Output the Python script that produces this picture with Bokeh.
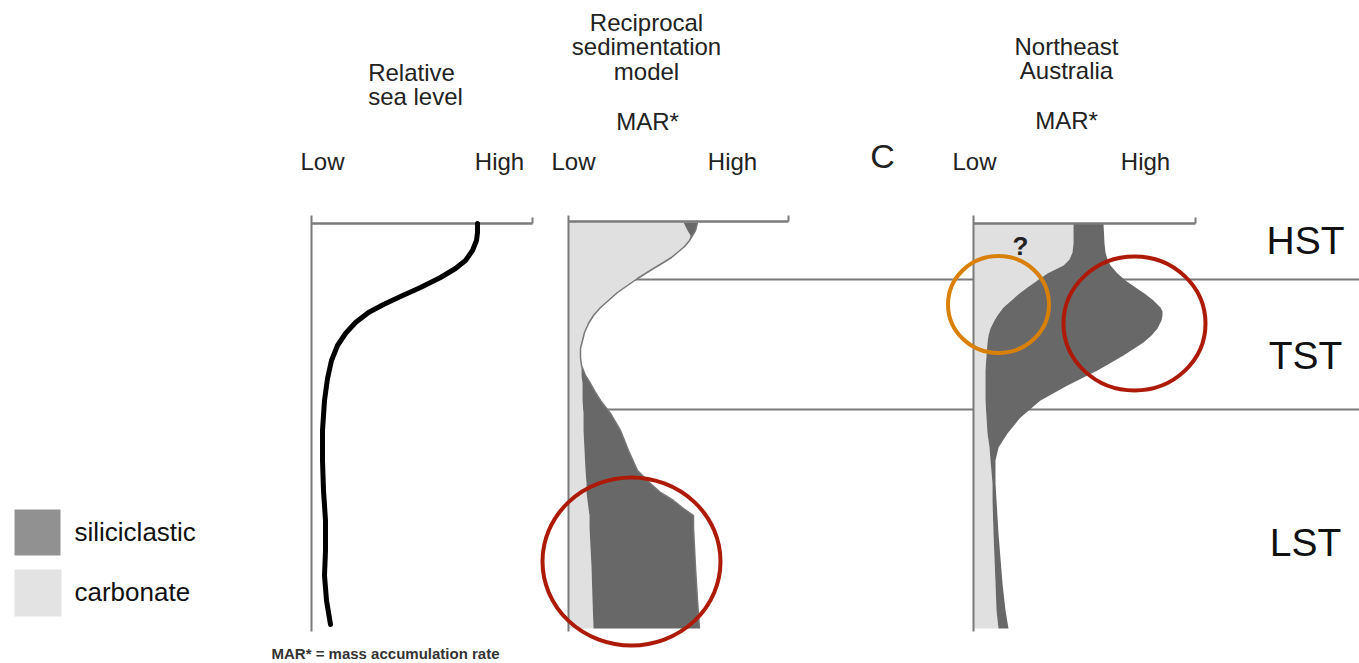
from bokeh.plotting import figure
from bokeh.models import Range1d
from bokeh.embed import file_html
from bokeh.resources import INLINE
from bokeh.core.properties import value

# ---------------- data (diagram units = pixels of the drawing) ----------------
# Relative sea level curve: depth and position between Low and High
sea_depth = [223, 232, 240, 250, 260, 268, 277, 287, 296, 304, 312, 322, 333, 345, 360, 378,
             400, 430, 460, 490, 520, 550, 575, 600, 624]
sea_level = [477, 477, 476, 472, 465, 455, 440, 420, 400, 383, 368, 355, 345, 337, 331, 327,
             324, 322, 322, 323, 325, 325, 324, 326, 330]

# Reciprocal sedimentation model: carbonate boundary and total MAR boundary
rsm_depth = [222, 226, 230, 235, 240, 246, 252, 257, 262, 268, 273, 278, 285, 292, 300, 307, 315, 323, 332, 340,
             348, 357, 365, 375, 383, 392, 400, 413, 430, 450, 470, 483, 492, 500, 508, 515, 527, 567, 600, 628]
rsm_carbonate = [683, 685, 687, 690, 689, 684, 677, 671, 663, 653, 645, 637, 627, 617, 608, 600, 593, 588, 584, 582,
                 580, 580, 581, 581, 582, 582, 582, 583, 583, 584, 585, 586, 586, 587, 588, 589, 589, 591, 592, 593]
rsm_total = [697, 696, 695, 692, 689, 684, 677, 671, 663, 653, 645, 637, 627, 617, 608, 600, 593, 588, 584, 582,
             580, 580, 581, 585, 590, 595, 600, 610, 620, 628, 637, 650, 660, 673, 683, 693, 693, 695, 697, 699]

# Northeast Australia
nea_depth = [223, 243, 252, 259, 265, 273, 280, 287, 293, 300, 307, 311, 315, 320, 328, 335,
             342, 355, 370, 385, 400, 417, 433, 447, 460, 483, 500, 533, 583, 610, 628]
nea_carbonate = [1073, 1073, 1072, 1069, 1063, 1047, 1037, 1027, 1019, 1011, 1003, 1000, 997, 994, 990, 988,
                 987, 986, 985, 985, 985, 986, 987, 989, 990, 992, 992, 993, 995, 996, 998]
nea_total = [1103, 1104, 1105, 1107, 1110, 1117, 1125, 1135, 1144, 1153, 1160, 1162, 1162, 1161, 1157, 1151,
             1143, 1123, 1097, 1067, 1040, 1020, 1007, 998, 995, 995, 996, 998, 1002, 1005, 1008]

systems_tracts = ["HST", "TST", "LST"]
tract_boundaries = [279, 409]
legend_labels = ["siliciclastic", "carbonate"]
scale_labels = ["Low", "High"]
title_sea = ["Relative", "sea level"]
title_rsm = ["Reciprocal", "sedimentation", "model"]
title_nea = ["Northeast", "Australia"]
mar_label = "MAR*"
footnote = "MAR* = mass accumulation rate"

# ---------------- layout / style ----------------
W, H = 1359, 663
FONT = value("Liberation Sans")
CARB = "#e0e0e0"
SILI = "#686868"
AXC = "#7a7a7a"

p = figure(width=W, height=H, x_range=Range1d(0, W), y_range=Range1d(H, 0),
           output_backend="svg", toolbar_location=None,
           x_axis_location=None, y_axis_location=None, min_border=0)
p.grid.visible = False
p.outline_line_color = None
p.background_fill_color = "white"
p.border_fill_color = "white"

# systems tract boundaries (partly hidden below fills)
p.segment(x0=[568, 568], y0=tract_boundaries, x1=[W, W], y1=tract_boundaries,
          line_color=AXC, line_width=2)

# reciprocal model fills
ax2 = 568
p.harea(x1=[ax2] * len(rsm_depth), x2=rsm_carbonate, y=rsm_depth, fill_color=CARB)
p.harea(x1=rsm_carbonate, x2=rsm_total, y=rsm_depth, fill_color=SILI)
p.line(rsm_total, rsm_depth, line_color="#777777", line_width=1.5, line_join="round")

# Northeast Australia fills
ax3 = 973
p.harea(x1=[ax3] * len(nea_depth), x2=nea_carbonate, y=nea_depth, fill_color=CARB)
p.harea(x1=nea_carbonate, x2=nea_total, y=nea_depth, fill_color=SILI)

# panel axes
axes_x = [311, 568, 973]
axes_right = [532, 788, 1195]
top_y = [223, 221, 223]
p.segment(x0=axes_x, y0=[215] * 3, x1=axes_x, y1=[631] * 3, line_color=AXC, line_width=2)
p.segment(x0=axes_x, y0=top_y, x1=axes_right, y1=top_y, line_color=AXC, line_width=2.5)
p.segment(x0=axes_right, y0=top_y, x1=axes_right, y1=[t - 6 for t in top_y], line_color=AXC, line_width=2)

# sea level curve
p.line(sea_level, sea_depth, line_color="black", line_width=5, line_cap="round", line_join="round")

# highlight circles
p.ellipse(x=[631, 1134], y=[561, 323], width=[178, 142], height=[168, 134],
          fill_color=None, line_color="#ae1a08", line_width=4)
p.ellipse(x=[998], y=[304], width=[101], height=[97],
          fill_color=None, line_color="#d98008", line_width=4)

# legend
p.quad(left=[14, 14], right=[60, 61], top=[509, 569], bottom=[555, 616],
       fill_color=["#919191", "#e3e3e3"], line_color=None)
p.text(x=[74, 74], y=[531, 591], text=legend_labels, text_font=FONT, text_font_size="26px",
       text_align="left", text_baseline="middle", text_color="#111111")

# titles
def centered(xs, ys, texts, size, color="#222222", style="normal"):
    p.text(x=xs, y=ys, text=texts, text_font=FONT, text_font_size=size, text_font_style=style,
           text_align="center", text_baseline="middle", text_color=color)

centered([411, 415], [72, 96], title_sea, "24px")
centered([646, 646, 646], [22, 46, 71], title_rsm, "24px")
centered([1066, 1066], [46, 70], title_nea, "24px")
centered([647, 1066], [121, 120], [mar_label, mar_label], "24px")
centered([322, 499, 573, 732, 974, 1145], [161] * 6, scale_labels * 3, "24px")
centered([882], [155], ["C"], "34px")
centered([1305, 1305, 1305], [240, 355, 542], systems_tracts, "39px", color="#111111")
centered([1020], [245], ["?"], "26px", color="#222222", style="bold")

p.text(x=[271], y=[653], text=[footnote], text_font=FONT, text_font_size="15px",
       text_font_style="bold", text_align="left", text_baseline="middle", text_color="#333333")

open("out.html", "w").write(file_html(p, INLINE))
